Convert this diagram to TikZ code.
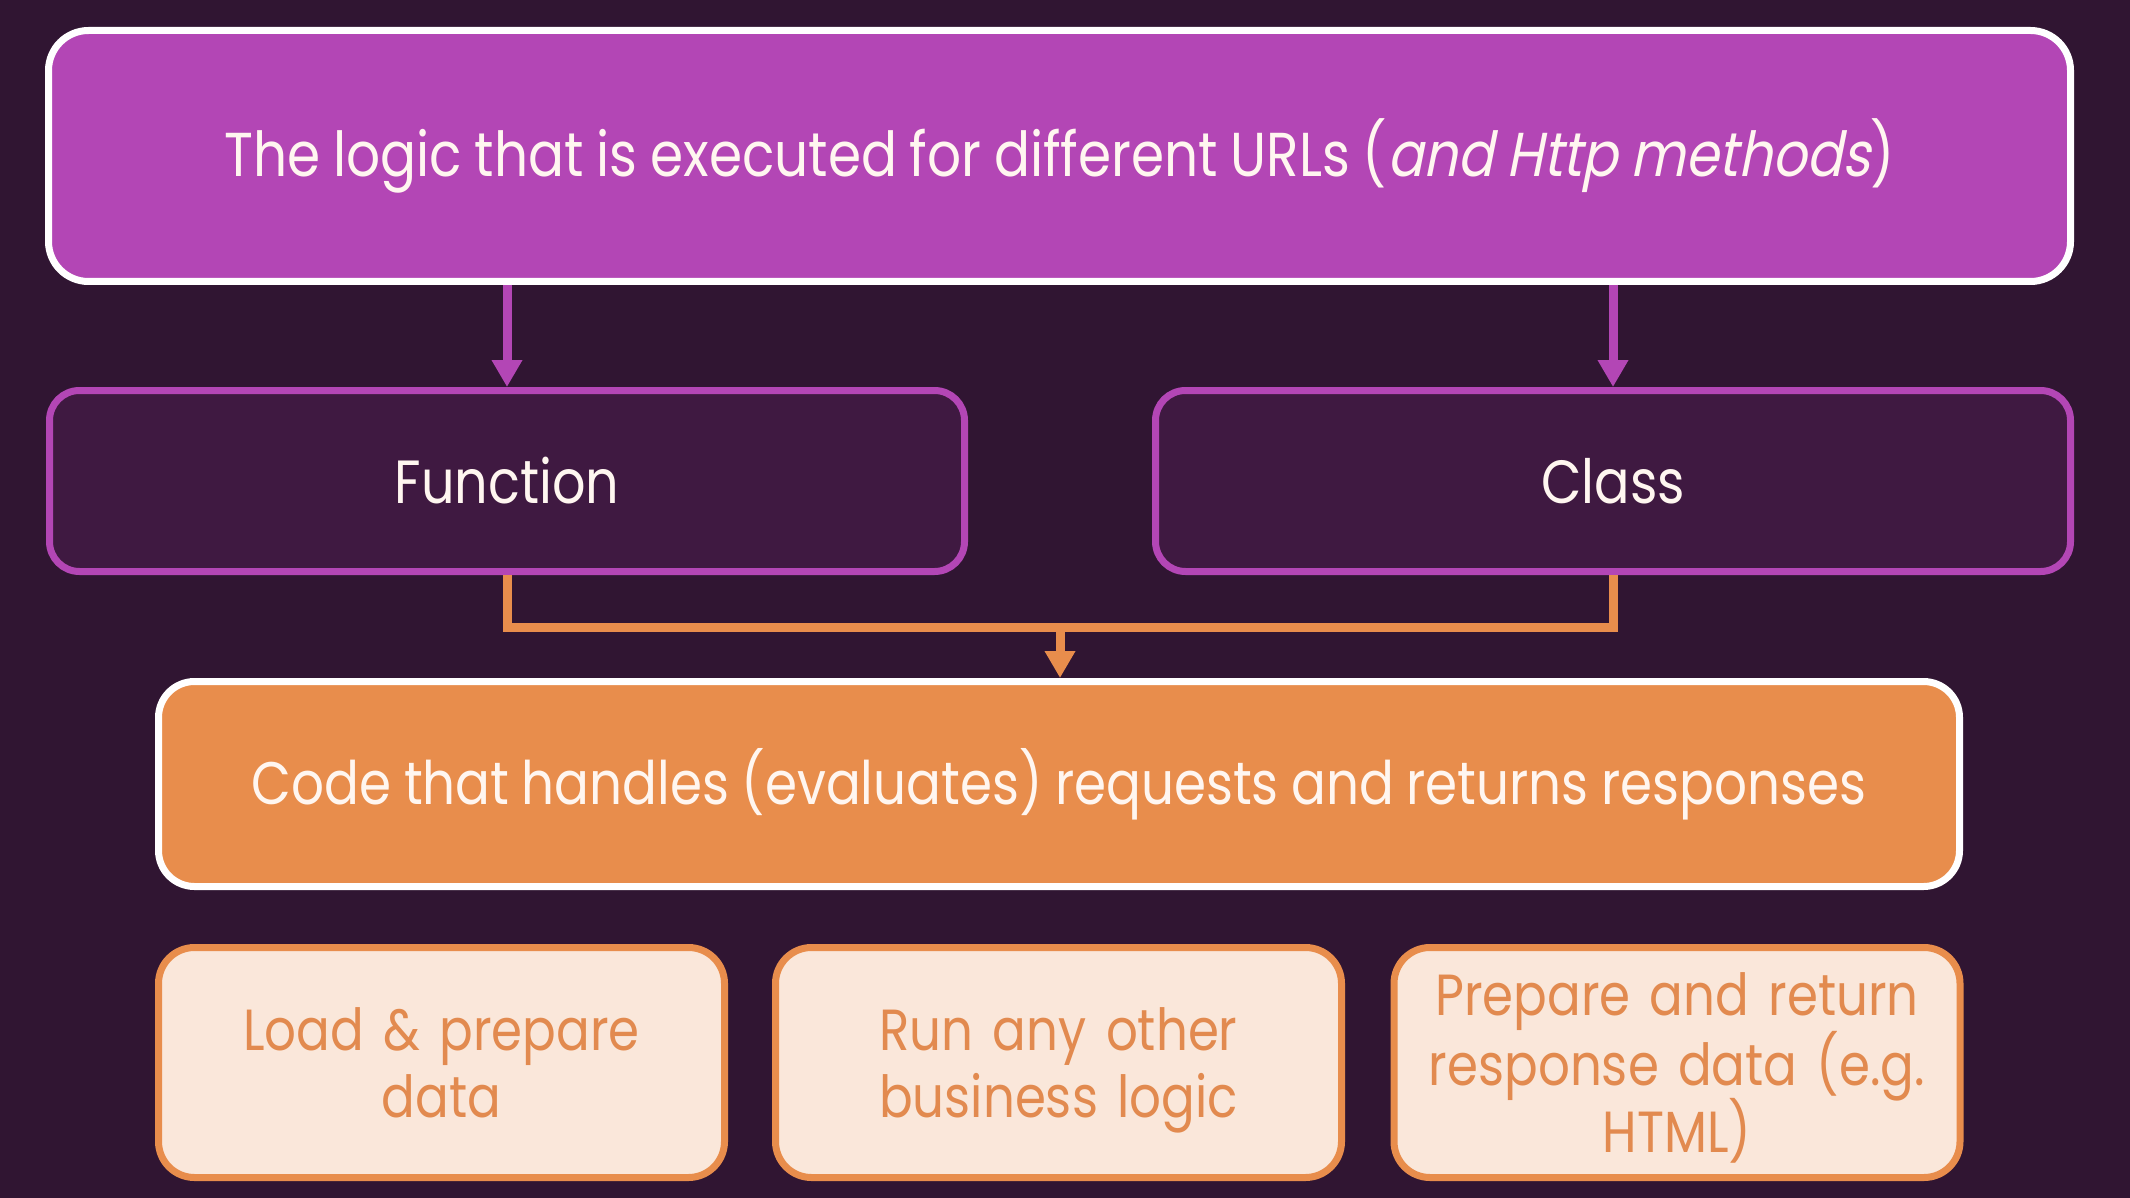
\documentclass[tikz,border=0pt]{standalone}
\usepackage{fontspec}
\setmainfont{Poppins}[FakeStretch=0.86,WordSpace=0.9]
\newfontfamily\popit[FakeStretch=0.86,FakeSlant=0.2,WordSpace=0.9]{Poppins}
\usetikzlibrary{arrows.meta,calc}
\definecolor{bgc}{HTML}{301532}
\definecolor{purp}{HTML}{B346B5}
\definecolor{darkp}{HTML}{3F1941}
\definecolor{orng}{HTML}{E88D4C}
\definecolor{lightor}{HTML}{FAE7DA}
\definecolor{ortext}{HTML}{E28A4F}
\definecolor{offwhite}{HTML}{FFF6F0}
\tikzset{
  box/.style={rectangle, line width=7pt, inner sep=0pt, align=center},
  topbox/.style={box, fill=purp, draw=white, rounded corners=40pt, text=offwhite,
    font=\fontsize{62}{74}\selectfont},
  midbox/.style={box, fill=darkp, draw=purp, rounded corners=30pt, text=offwhite,
    font=\fontsize{61}{73}\selectfont},
  codebox/.style={box, fill=orng, draw=white, rounded corners=36pt, text=offwhite,
    font=\fontsize{60}{72}\selectfont},
  taskbox/.style={box, fill=lightor, draw=orng, rounded corners=36pt, text=ortext,
    minimum width=566pt, minimum height=230pt, text width=545pt,
    font=\fontsize{58}{67}\selectfont},
  parrow/.style={draw=purp, line width=9pt, -{Triangle[length=27pt,width=29pt]}},
  oline/.style={draw=orng, line width=9pt},
  oarrow/.style={draw=orng, line width=9pt, -{Triangle[length=27pt,width=29pt]}},
}
\begin{document}
\begin{tikzpicture}[x=1pt,y=-1pt]
\fill[bgc] (0,0) rectangle (2130,1198);
\useasboundingbox (0,0) rectangle (2130,1198);

\node[topbox, minimum width=2022pt, minimum height=251pt] (top) at (1059.5,156)
  {The logic that is executed for different URLs ({\popit and Http methods})};

\node[midbox, minimum width=915pt, minimum height=181pt] (fun) at (507,481) {Function};
\node[midbox, minimum width=915pt, minimum height=181pt] (cls) at (1613,481) {Class};

\node[codebox, minimum width=1801pt, minimum height=205pt] (code) at (1059,784)
  {Code that handles (evaluates) requests and returns responses};

\node[taskbox] (t1) at (441.5,1062.5) {Load \& prepare\\data};
\node[taskbox] (t2) at (1058.5,1062.5) {Run any other\\business \smash{logic}};
\node[taskbox] (t3) at (1677,1062.5) {Prepare and return\\response data (e.g.\\\smash{HTML)}};

\draw[parrow] (top.south -| fun.north) -- (fun.north);
\draw[parrow] (top.south -| cls.north) -- (cls.north);

\coordinate (mid) at (1060,627);
\draw[oline] (fun.south) |- (mid) -| (cls.south);
\draw[oarrow] (mid) -- (mid |- code.north);
\end{tikzpicture}
\end{document}
